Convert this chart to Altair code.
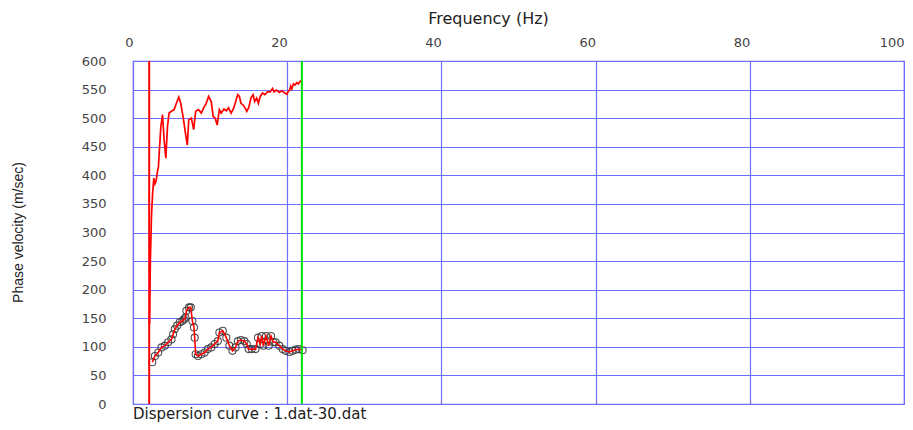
import altair as alt
import pandas as pd

# Upper dispersion curve (red line)
top_freq = [2.15, 2.25, 2.4, 2.55, 2.7, 2.85, 3.0, 3.15, 3.3, 3.45, 3.61, 3.83, 4.04, 4.26,
            4.47, 4.68, 4.99, 5.33, 5.63, 5.94, 6.19, 6.49, 6.8, 7.05, 7.23, 7.57, 7.87, 8.13,
            8.5, 8.86, 9.16, 9.5, 9.8, 10.15, 10.4, 10.66, 10.92, 11.2, 11.44, 11.8, 12.1,
            12.39, 12.73, 13.07, 13.38, 13.59, 13.8, 14.0, 14.28, 14.54, 14.75, 15.0, 15.3,
            15.57, 15.78, 16.04, 16.26, 16.5, 16.8, 17.1, 17.45, 17.8, 18.1, 18.3, 18.6,
            18.97, 19.3, 19.6, 19.96, 20.1, 20.3, 20.45, 20.6, 20.8, 21.0, 21.25, 21.45, 21.77]
top_vel = [140, 250, 330, 370, 395, 385, 390, 405, 415, 450, 485, 506, 462, 430,
           485, 509, 512, 515, 526, 537, 526, 503, 474, 453, 497, 500, 480, 512,
           515, 509, 518, 526, 538, 529, 503, 500, 488, 515, 509, 516, 513,
           518, 509, 518, 532, 541, 538, 526, 523, 518, 512, 518, 535,
           541, 529, 535, 526, 538, 544, 541, 546, 546, 552, 546, 549,
           545, 548, 545, 542, 546, 549, 556, 551, 560, 558, 562, 560, 566]

# Lower picked curve (red line with open circles)
bot_freq = [2.5, 2.84, 3.27, 3.7, 4.13, 4.56, 4.99, 5.2, 5.42, 5.72, 6.06, 6.4, 6.6, 6.8,
            6.92, 7.27, 7.5, 7.7, 7.91, 8.0, 8.13, 8.43, 8.86, 9.29, 9.7, 10.15, 10.58, 11.0,
            11.2, 11.65, 12.1, 12.5, 12.9, 13.3, 13.6, 14.0, 14.45, 14.75, 15.0, 15.4, 15.9,
            16.2, 16.5, 16.7, 16.9, 17.25, 17.6, 17.9, 18.2, 18.5, 18.97, 19.4, 19.8, 20.3,
            20.7, 21.1, 21.5, 22.0]
bot_vel = [73, 84, 90, 99, 102, 108, 113, 122, 131, 137, 143, 145, 148, 151,
           163, 169, 169, 145, 134, 116, 87, 84, 87, 90, 96, 99, 105, 110,
           125, 128, 116, 102, 93, 99, 110, 112, 110, 105, 96, 96, 96,
           116, 105, 119, 102, 119, 102, 119, 108, 108, 102, 96, 93, 91,
           93, 95, 96, 94]

# Vertical limit lines
low_limit = [2.1]
high_limit = [21.9]

x_ticks = [0, 20, 40, 60, 80, 100]
y_ticks = [0, 50, 100, 150, 200, 250, 300, 350, 400, 450, 500, 550, 600]

top_df = pd.DataFrame({"freq": top_freq, "vel": top_vel})
bot_df = pd.DataFrame({"freq": bot_freq, "vel": bot_vel})
low_df = pd.DataFrame({"freq": low_limit})
high_df = pd.DataFrame({"freq": high_limit})

GRID = "#6f6fff"
LABEL_FONT = "DejaVu Sans"

x_enc = alt.X(
    "freq:Q",
    scale=alt.Scale(domain=[0, 100], nice=False, zero=False),
    axis=alt.Axis(
        orient="top", values=x_ticks, title="Frequency (Hz)", ticks=False, domain=False,
        labelAlign="right", labelBaseline="bottom", labelPadding=12,
        labelFont=LABEL_FONT, labelFontSize=13, labelColor="#444444",
        gridColor=GRID, gridWidth=1.2, gridOpacity=1,
        titleFont=LABEL_FONT, titleFontSize=16, titleFontWeight="normal", titleColor="#222222",
        titleX=355, titleY=-43, titleAlign="center", titleBaseline="middle",
    ),
)
y_enc = alt.Y(
    "vel:Q",
    scale=alt.Scale(domain=[0, 600], nice=False),
    axis=alt.Axis(
        values=y_ticks, title="Phase velocity (m/sec)", ticks=False, domain=False,
        labelPadding=27, labelFont=LABEL_FONT, labelFontSize=13, labelColor="#444444",
        gridColor=GRID, gridWidth=1.2, gridOpacity=1,
        titleFont="Liberation Sans", titleFontSize=14, titleFontWeight="normal",
        titleColor="#222222", titleX=-115, titleY=171, titleAlign="center",
        titleBaseline="middle", titleAngle=270,
    ),
)

top_line = alt.Chart(top_df).mark_line(color="#ff0000", strokeWidth=1.7).encode(
    x=x_enc, y=y_enc, order="freq:Q")
circles = alt.Chart(bot_df).mark_point(
    shape="circle", size=50, filled=False, stroke="#333333", strokeWidth=1.1, opacity=0.85
).encode(x=x_enc, y=y_enc)
bot_line = alt.Chart(bot_df).mark_line(color="#ff0000", strokeWidth=1.6).encode(
    x=x_enc, y=y_enc, order="freq:Q")
low_rule = alt.Chart(low_df).mark_rule(color="#ff0000", strokeWidth=2).encode(x=x_enc)
high_rule = alt.Chart(high_df).mark_rule(color="#00e000", strokeWidth=2).encode(x=x_enc)

chart = alt.layer(top_line, circles, bot_line, low_rule, high_rule).properties(
    width=771,
    height=343,
    autosize=alt.AutoSizeParams(type="none"),
    padding={"left": 125, "top": 53, "right": 1, "bottom": 18},
    title=alt.TitleParams(
        "Dispersion curve : 1.dat-30.dat", orient="bottom", anchor="start", frame="group",
        font=LABEL_FONT, fontSize=15, fontWeight="normal", color="#222222", offset=-4,
    ),
).configure_view(stroke=GRID, strokeWidth=1.2)

chart.save("out.html", embed_options={"renderer": "svg", "actions": False})
